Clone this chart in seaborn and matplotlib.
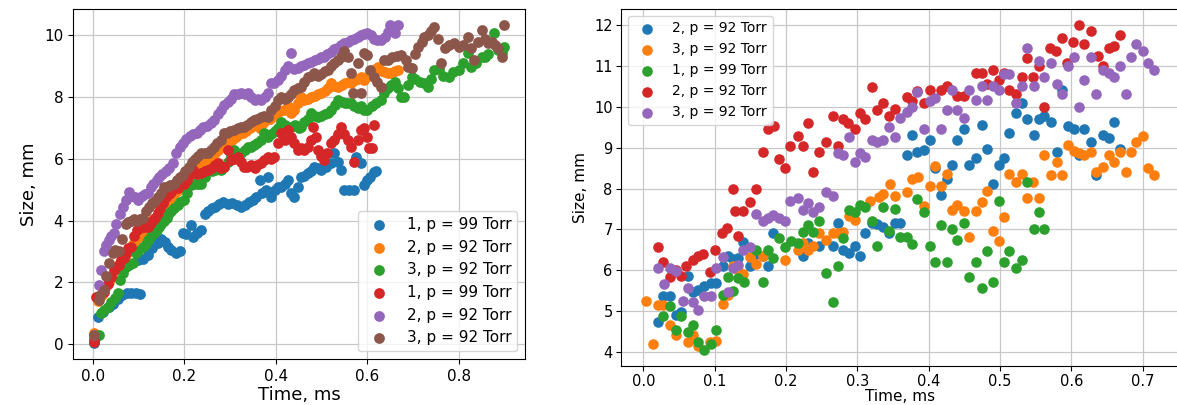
import matplotlib as mpl
mpl.use("Agg")
import matplotlib.pyplot as plt
from matplotlib.ticker import MultipleLocator
import seaborn as sns

# ---------- left panel data (time ms, size mm) ----------
blue_l_t = [0.002, 0.011, 0.022, 0.035, 0.045, 0.055, 0.065, 0.075, 0.085, 0.095,
            0.104, 0.100, 0.110, 0.120, 0.130, 0.142, 0.150, 0.158, 0.165, 0.172,
            0.182, 0.190, 0.197, 0.205, 0.215, 0.220, 0.228, 0.237, 0.245, 0.252,
            0.260, 0.268, 0.276, 0.285, 0.295, 0.305, 0.315, 0.324, 0.333, 0.342,
            0.350, 0.358, 0.365, 0.370, 0.378, 0.383, 0.390, 0.398, 0.405, 0.412,
            0.420, 0.427, 0.434, 0.440, 0.448, 0.456, 0.463, 0.470, 0.477, 0.484,
            0.492, 0.500, 0.510, 0.520, 0.528, 0.536, 0.543, 0.550, 0.560, 0.572,
            0.575, 0.587, 0.594, 0.600, 0.607, 0.615, 0.620]
blue_l_s = [0.03, 0.88, 1.05, 1.20, 1.30, 1.45, 1.60, 1.65, 1.65, 1.65,
            1.62, 2.72, 2.75, 2.90, 3.10, 3.27, 3.40, 3.30, 3.15, 3.05,
            2.95, 3.00, 3.60, 3.55, 3.86, 3.47, 3.60, 3.70, 4.20, 4.30,
            4.40, 4.45, 4.55, 4.60, 4.55, 4.57, 4.50, 4.44, 4.50, 4.60,
            4.67, 4.75, 5.30, 4.90, 5.00, 5.40, 4.77, 5.00, 5.10, 5.10,
            5.20, 5.30, 4.90, 4.77, 5.10, 5.40, 5.45, 5.53, 5.60, 5.73,
            5.70, 5.64, 5.75, 5.86, 6.20, 5.90, 5.64, 5.00, 5.00, 5.00,
            6.06, 5.86, 5.15, 5.30, 5.40, 5.58, 5.60]

orange_l_t = [0.003, 0.012, 0.020, 0.028, 0.035, 0.042, 0.050, 0.058, 0.065, 0.072,
              0.080, 0.088, 0.095, 0.103, 0.110, 0.118, 0.125, 0.133, 0.140, 0.148,
              0.155, 0.163, 0.170, 0.178, 0.185, 0.193, 0.200, 0.208, 0.215, 0.223,
              0.230, 0.238, 0.245, 0.253, 0.260, 0.268, 0.275, 0.283, 0.290, 0.298,
              0.305, 0.313, 0.320, 0.328, 0.335, 0.343, 0.350, 0.358, 0.365, 0.373,
              0.380, 0.388, 0.395, 0.403, 0.410, 0.418, 0.427, 0.434, 0.440, 0.448,
              0.456, 0.463, 0.470, 0.477, 0.485, 0.493, 0.500, 0.508, 0.515, 0.520,
              0.528, 0.537, 0.545, 0.552, 0.560, 0.565, 0.573, 0.580, 0.587, 0.594,
              0.602, 0.610, 0.617, 0.624, 0.632, 0.639, 0.646, 0.653, 0.660, 0.668]
orange_l_s = [0.35, 1.40, 1.60, 1.80, 2.00, 2.20, 2.40, 2.60, 2.75, 2.90,
              3.05, 3.25, 3.40, 3.50, 3.60, 3.75, 3.90, 4.05, 4.15, 4.30,
              4.45, 4.60, 4.70, 4.85, 4.95, 5.10, 5.25, 5.40, 5.50, 5.60,
              5.75, 5.85, 5.95, 6.00, 6.10, 6.20, 6.30, 6.40, 6.45, 6.55,
              6.60, 6.70, 6.80, 6.85, 6.90, 7.00, 7.05, 7.10, 7.00, 7.15,
              7.25, 7.30, 7.40, 7.50, 7.55, 7.60, 7.70, 7.48, 7.58, 7.80,
              8.00, 7.90, 7.95, 8.00, 8.05, 8.10, 8.14, 8.20, 8.30, 8.46,
              8.35, 8.33, 8.40, 8.45, 8.50, 8.46, 8.55, 8.60, 8.65, 8.55,
              8.70, 8.80, 8.90, 8.98, 8.85, 8.80, 8.78, 8.78, 8.85, 8.88]

green_l_t = [0.005, 0.013, 0.018, 0.025, 0.033, 0.040, 0.048, 0.055, 0.060, 0.066,
             0.072, 0.080, 0.088, 0.094, 0.100, 0.110, 0.116, 0.120, 0.128, 0.134,
             0.140, 0.145, 0.150, 0.156, 0.162, 0.166, 0.172, 0.178, 0.186, 0.192,
             0.200, 0.207, 0.215, 0.222, 0.230, 0.237, 0.245, 0.252, 0.260, 0.268,
             0.280, 0.288, 0.296, 0.303, 0.310, 0.318, 0.325, 0.333, 0.340, 0.346,
             0.353, 0.360, 0.368, 0.375, 0.383, 0.390, 0.398, 0.405, 0.412, 0.420,
             0.427, 0.434, 0.442, 0.450, 0.456, 0.463, 0.470, 0.477, 0.485, 0.493,
             0.500, 0.507, 0.515, 0.522, 0.530, 0.537, 0.545, 0.552, 0.558, 0.565,
             0.572, 0.580, 0.587, 0.594, 0.600, 0.610, 0.620, 0.630, 0.637, 0.645,
             0.652, 0.660, 0.668, 0.675, 0.680, 0.690, 0.697, 0.705, 0.715, 0.725,
             0.733, 0.740, 0.747, 0.756, 0.765, 0.778, 0.788, 0.800, 0.810, 0.820,
             0.828, 0.838, 0.850, 0.857, 0.865, 0.878, 0.887, 0.894, 0.900]
green_l_s = [0.20, 0.29, 1.00, 1.10, 1.20, 1.35, 1.50, 1.65, 2.07, 2.30,
             2.50, 2.55, 2.62, 2.95, 3.00, 3.15, 3.25, 3.37, 3.50, 3.60,
             3.70, 3.80, 3.90, 4.00, 4.10, 4.24, 4.30, 4.40, 4.50, 4.60,
             4.67, 4.90, 5.15, 5.20, 5.20, 5.20, 5.40, 5.64, 5.60, 5.65,
             5.64, 5.73, 5.90, 6.10, 6.30, 6.06, 6.20, 6.30, 6.40, 6.40,
             6.45, 6.50, 6.60, 6.84, 6.70, 6.80, 6.90, 7.00, 7.20, 7.10,
             7.00, 7.03, 7.10, 7.00, 7.03, 7.20, 7.30, 7.48, 7.40, 7.35,
             7.40, 7.45, 7.48, 7.60, 7.75, 7.90, 7.85, 7.80, 7.80, 7.80,
             7.70, 7.65, 7.70, 7.58, 7.60, 7.70, 7.80, 7.90, 8.14, 8.30,
             8.40, 8.50, 8.30, 8.00, 8.00, 8.40, 8.65, 8.60, 8.50, 8.46,
             8.33, 8.60, 8.88, 8.90, 8.70, 8.65, 8.80, 8.88, 9.10, 9.43,
             8.98, 9.10, 9.30, 9.30, 9.40, 10.08, 9.53, 9.43, 9.63]

red_l_t = [0.002, 0.004, 0.008, 0.015, 0.025, 0.033, 0.040, 0.046, 0.052, 0.057,
           0.062, 0.068, 0.072, 0.078, 0.083, 0.090, 0.096, 0.104, 0.112, 0.120,
           0.126, 0.130, 0.136, 0.142, 0.148, 0.153, 0.160, 0.167, 0.172, 0.180,
           0.186, 0.193, 0.200, 0.207, 0.213, 0.220, 0.228, 0.237, 0.245, 0.252,
           0.260, 0.268, 0.274, 0.280, 0.288, 0.296, 0.302, 0.310, 0.318, 0.324,
           0.330, 0.338, 0.346, 0.355, 0.360, 0.368, 0.375, 0.383, 0.390, 0.397,
           0.405, 0.412, 0.420, 0.427, 0.433, 0.440, 0.448, 0.456, 0.463, 0.470,
           0.477, 0.482, 0.488, 0.493, 0.500, 0.506, 0.513, 0.520, 0.528, 0.536,
           0.543, 0.550, 0.558, 0.565, 0.572, 0.580, 0.587, 0.594, 0.600, 0.605,
           0.610, 0.615]
red_l_s = [0.06, 0.15, 1.52, 1.55, 1.70, 1.95, 2.17, 2.40, 2.50, 2.55,
           2.72, 2.80, 2.95, 3.10, 3.15, 3.50, 3.70, 3.75, 3.78, 3.80,
           3.90, 4.00, 4.10, 4.24, 4.40, 4.57, 4.77, 4.85, 4.93, 5.10,
           5.05, 5.20, 5.20, 5.30, 5.50, 5.64, 5.50, 5.53, 5.60, 5.64,
           5.70, 5.80, 5.86, 5.70, 5.75, 6.30, 5.96, 6.00, 6.06, 5.90,
           5.73, 5.75, 5.80, 5.70, 5.80, 5.86, 5.95, 6.06, 6.00, 6.06,
           6.50, 6.84, 6.60, 6.94, 6.70, 6.50, 6.30, 6.35, 6.30, 6.40,
           6.60, 7.03, 6.70, 6.30, 6.10, 5.96, 6.20, 6.50, 6.60, 6.80,
           7.03, 6.80, 6.60, 6.40, 5.90, 6.60, 6.94, 7.00, 6.70, 6.35,
           6.35, 7.10]

purple_l_t = [0.003, 0.013, 0.018, 0.025, 0.030, 0.035, 0.040, 0.046, 0.052, 0.060,
              0.066, 0.072, 0.079, 0.085, 0.092, 0.100, 0.108, 0.114, 0.120, 0.127,
              0.133, 0.140, 0.145, 0.152, 0.160, 0.168, 0.175, 0.182, 0.190, 0.197,
              0.205, 0.212, 0.220, 0.228, 0.235, 0.242, 0.250, 0.258, 0.266, 0.274,
              0.280, 0.287, 0.295, 0.302, 0.310, 0.318, 0.325, 0.333, 0.340, 0.347,
              0.355, 0.362, 0.368, 0.376, 0.383, 0.390, 0.397, 0.405, 0.412, 0.420,
              0.427, 0.434, 0.440, 0.448, 0.456, 0.463, 0.470, 0.477, 0.485, 0.492,
              0.500, 0.506, 0.513, 0.520, 0.528, 0.535, 0.542, 0.550, 0.558, 0.565,
              0.572, 0.580, 0.587, 0.594, 0.600, 0.608, 0.615, 0.622, 0.630, 0.638,
              0.645, 0.650, 0.660, 0.668]
purple_l_s = [0.30, 1.90, 2.40, 3.00, 3.20, 3.37, 3.50, 3.60, 3.90, 4.20,
              4.44, 4.67, 4.93, 4.80, 4.75, 4.67, 4.80, 4.85, 4.90, 5.10,
              5.20, 5.30, 5.40, 5.50, 5.60, 5.70, 5.86, 6.20, 6.40, 6.50,
              6.65, 6.75, 6.80, 6.85, 6.95, 7.03, 7.05, 7.15, 7.25, 7.45,
              7.60, 7.75, 7.85, 7.95, 8.10, 8.10, 8.12, 8.10, 8.14, 8.00,
              7.90, 7.95, 7.90, 8.00, 8.14, 8.46, 8.46, 8.55, 8.70, 8.88,
              9.00, 9.43, 8.90, 8.95, 9.00, 9.05, 9.10, 9.15, 9.20, 9.25,
              9.30, 9.30, 9.40, 9.45, 9.55, 9.60, 9.70, 9.75, 9.80, 9.85,
              9.90, 9.95, 10.00, 10.05, 10.08, 10.00, 9.90, 9.85, 9.85, 9.95,
              10.10, 10.34, 10.08, 10.34]

brown_l_t = [0.004, 0.013, 0.016, 0.024, 0.030, 0.035, 0.044, 0.050, 0.057, 0.064,
             0.072, 0.078, 0.083, 0.090, 0.097, 0.104, 0.110, 0.116, 0.123, 0.130,
             0.137, 0.143, 0.150, 0.156, 0.163, 0.170, 0.177, 0.184, 0.190, 0.197,
             0.203, 0.210, 0.217, 0.224, 0.230, 0.237, 0.245, 0.252, 0.258, 0.265,
             0.272, 0.280, 0.287, 0.294, 0.300, 0.310, 0.318, 0.324, 0.330, 0.338,
             0.346, 0.353, 0.360, 0.368, 0.375, 0.383, 0.390, 0.398, 0.405, 0.412,
             0.420, 0.427, 0.434, 0.440, 0.448, 0.456, 0.463, 0.470, 0.477, 0.484,
             0.492, 0.500, 0.508, 0.515, 0.522, 0.528, 0.536, 0.543, 0.550, 0.558,
             0.565, 0.570, 0.580, 0.587, 0.594, 0.600, 0.607, 0.615, 0.622, 0.630,
             0.637, 0.646, 0.655, 0.665, 0.675, 0.685, 0.690, 0.697, 0.705, 0.712,
             0.720, 0.725, 0.733, 0.740, 0.747, 0.755, 0.762, 0.770, 0.780, 0.790,
             0.800, 0.810, 0.820, 0.828, 0.834, 0.842, 0.850, 0.858, 0.865, 0.872,
             0.880, 0.887, 0.894, 0.900]
brown_l_s = [0.30, 1.42, 1.60, 1.75, 2.20, 2.62, 2.95, 3.05, 3.00, 3.40,
             3.90, 3.95, 4.00, 4.05, 4.00, 4.05, 4.10, 4.30, 4.45, 4.57,
             4.65, 4.75, 4.90, 5.10, 5.10, 5.15, 5.20, 5.30, 5.40, 5.47,
             5.60, 5.73, 5.90, 6.00, 6.10, 6.20, 6.20, 6.20, 6.30, 6.40,
             6.50, 6.60, 6.84, 6.85, 6.90, 6.94, 7.00, 7.03, 7.03, 7.10,
             7.20, 7.26, 7.30, 7.36, 7.40, 7.36, 7.58, 7.70, 7.90, 8.00,
             7.95, 8.00, 8.10, 8.23, 8.30, 8.33, 8.50, 8.65, 8.70, 8.78,
             8.70, 8.75, 8.85, 8.88, 9.00, 9.10, 9.20, 9.30, 9.50, 9.30,
             8.78, 8.14, 9.10, 8.14, 9.43, 9.37, 8.88, 8.65, 8.50, 8.33,
             9.20, 9.20, 9.30, 9.35, 9.37, 9.20, 8.98, 8.95, 9.40, 9.63,
             9.80, 9.95, 10.00, 10.15, 10.28, 9.90, 9.10, 9.60, 9.70, 9.75,
             9.63, 9.70, 9.95, 9.60, 9.20, 9.80, 10.18, 9.90, 9.75, 9.80,
             9.70, 9.60, 9.30, 10.34]

left_labels = ["1, p = 99 Torr", "2, p = 92 Torr", "3, p = 92 Torr",
               "1, p = 99 Torr", "2, p = 92 Torr", "3, p = 92 Torr"]

# ---------- right panel data ----------
blue_r_t = [0.020, 0.028, 0.037, 0.045, 0.053, 0.062, 0.070, 0.077, 0.085, 0.094,
            0.102, 0.111, 0.118, 0.126, 0.133, 0.140, 0.150, 0.158, 0.167, 0.175,
            0.182, 0.223, 0.231, 0.246, 0.265, 0.272, 0.280, 0.288, 0.296, 0.304,
            0.311, 0.321, 0.328, 0.336, 0.344, 0.352, 0.360, 0.370, 0.377, 0.384,
            0.393, 0.401, 0.408, 0.417, 0.425, 0.433, 0.440, 0.450, 0.457, 0.466,
            0.474, 0.482, 0.490, 0.498, 0.505, 0.513, 0.522, 0.530, 0.538, 0.547,
            0.554, 0.562, 0.571, 0.579, 0.587, 0.595, 0.603, 0.610, 0.618, 0.627,
            0.635, 0.644, 0.652, 0.659, 0.668]
blue_r_s = [4.73, 5.37, 5.37, 4.90, 4.98, 5.86, 5.47, 5.52, 5.60, 5.69,
            5.69, 6.10, 6.35, 6.27, 6.30, 6.68, 6.10, 6.39, 6.35, 6.10,
            6.90, 6.35, 6.66, 6.59, 6.59, 7.15, 6.49, 6.42, 6.59, 6.35,
            6.90, 7.15, 7.13, 7.06, 6.90, 7.15, 7.15, 8.82, 9.31, 8.89,
            8.94, 9.20, 8.50, 7.84, 8.23, 8.57, 9.20, 9.45, 8.57, 8.74,
            9.55, 8.96, 8.10, 8.57, 8.74, 9.37, 9.84, 10.09, 9.70, 9.31,
            9.70, 9.77, 9.62, 8.89, 10.41, 9.53, 9.45, 8.82, 9.45, 9.13,
            8.33, 9.31, 9.23, 9.62, 8.96]

orange_r_t = [0.004, 0.013, 0.020, 0.028, 0.037, 0.045, 0.062, 0.070, 0.077, 0.093,
              0.102, 0.111, 0.118, 0.126, 0.133, 0.140, 0.150, 0.158, 0.167, 0.199,
              0.216, 0.223, 0.231, 0.238, 0.246, 0.256, 0.265, 0.272, 0.280, 0.288,
              0.296, 0.318, 0.330, 0.336, 0.345, 0.353, 0.369, 0.377, 0.385, 0.393,
              0.401, 0.408, 0.417, 0.425, 0.433, 0.440, 0.449, 0.457, 0.466, 0.474,
              0.482, 0.490, 0.498, 0.506, 0.513, 0.522, 0.530, 0.538, 0.546, 0.555,
              0.562, 0.571, 0.579, 0.587, 0.595, 0.603, 0.611, 0.618, 0.627, 0.635,
              0.644, 0.652, 0.659, 0.668, 0.676, 0.684, 0.691, 0.700, 0.707, 0.715]
orange_r_s = [5.25, 4.20, 5.15, 5.15, 4.66, 4.42, 4.25, 4.42, 4.15, 4.25,
              4.27, 5.17, 5.39, 6.10, 6.00, 5.90, 6.32, 6.15, 6.35, 6.25,
              6.49, 6.66, 6.49, 6.59, 6.90, 6.74, 6.90, 6.90, 6.93, 7.33,
              7.23, 7.69, 7.79, 7.86, 8.10, 7.82, 7.91, 8.23, 8.28, 7.57,
              8.06, 8.55, 8.06, 8.35, 7.47, 7.60, 7.45, 6.81, 7.45, 7.67,
              7.94, 6.96, 6.71, 7.30, 8.35, 8.15, 8.35, 7.77, 8.15, 7.77,
              8.82, 8.33, 8.65, 8.33, 9.06, 8.92, 8.87, 8.82, 8.89, 8.40,
              8.52, 8.82, 8.65, 8.89, 8.40, 8.89, 9.13, 9.28, 8.50, 8.33]

green_r_t = [0.028, 0.037, 0.045, 0.053, 0.062, 0.070, 0.077, 0.085, 0.094, 0.102,
             0.111, 0.118, 0.126, 0.133, 0.141, 0.158, 0.167, 0.175, 0.182, 0.190,
             0.199, 0.207, 0.216, 0.223, 0.231, 0.238, 0.246, 0.256, 0.265, 0.272,
             0.280, 0.288, 0.296, 0.304, 0.311, 0.321, 0.328, 0.336, 0.344, 0.352,
             0.360, 0.369, 0.377, 0.384, 0.393, 0.401, 0.408, 0.417, 0.425, 0.433,
             0.440, 0.450, 0.457, 0.466, 0.474, 0.482, 0.490, 0.498, 0.506, 0.513,
             0.522, 0.530, 0.538, 0.547, 0.555, 0.562]
green_r_s = [4.88, 5.12, 4.54, 4.88, 4.49, 4.66, 4.25, 4.05, 4.20, 4.54,
             5.39, 5.83, 5.50, 5.80, 5.71, 6.49, 5.71, 6.49, 6.29, 6.79,
             6.57, 6.71, 6.66, 6.93, 7.10, 6.93, 7.20, 5.93, 5.22, 6.10,
             6.79, 7.47, 7.42, 7.60, 7.55, 7.20, 6.59, 7.55, 6.96, 7.50,
             6.81, 6.81, 6.64, 7.74, 7.42, 6.59, 6.20, 7.10, 6.20, 7.00,
             6.74, 7.15, 5.83, 6.20, 5.56, 6.47, 5.71, 7.69, 6.20, 6.47,
             6.05, 6.25, 8.15, 7.00, 7.42, 7.00]

red_r_t = [0.020, 0.028, 0.037, 0.046, 0.052, 0.060, 0.070, 0.077, 0.084, 0.093,
           0.100, 0.110, 0.117, 0.126, 0.128, 0.133, 0.140, 0.150, 0.158, 0.167,
           0.175, 0.183, 0.190, 0.199, 0.206, 0.216, 0.223, 0.231, 0.238, 0.246,
           0.256, 0.265, 0.272, 0.279, 0.286, 0.296, 0.304, 0.311, 0.320, 0.328,
           0.336, 0.344, 0.353, 0.370, 0.377, 0.384, 0.393, 0.401, 0.417, 0.425,
           0.440, 0.449, 0.466, 0.474, 0.482, 0.490, 0.498, 0.506, 0.513, 0.522,
           0.530, 0.538, 0.546, 0.554, 0.562, 0.570, 0.578, 0.587, 0.594, 0.602,
           0.610, 0.618, 0.627, 0.637, 0.644, 0.652, 0.659, 0.668]
red_r_s = [6.57, 6.20, 5.83, 6.00, 5.86, 6.10, 6.25, 6.35, 6.40, 5.96,
           6.50, 6.90, 7.03, 8.00, 7.45, 6.83, 7.45, 7.67, 8.00, 8.89,
           9.45, 9.53, 8.72, 8.50, 9.04, 9.28, 9.04, 9.60, 8.40, 8.89,
           9.14, 9.77, 9.04, 9.70, 9.60, 9.45, 9.84, 9.70, 10.48, 9.92,
           10.09, 9.77, 9.94, 10.23, 10.14, 10.40, 10.09, 10.41, 10.41, 10.50,
           10.26, 10.26, 10.82, 10.82, 10.57, 10.90, 10.65, 10.82, 10.41, 10.32,
           10.72, 11.20, 10.72, 11.00, 10.00, 11.43, 11.36, 11.68, 11.07, 11.60,
           12.00, 11.53, 11.85, 11.24, 11.00, 11.43, 11.50, 11.75]

purple_r_t = [0.020, 0.029, 0.037, 0.045, 0.055, 0.062, 0.070, 0.077, 0.085, 0.094,
              0.102, 0.111, 0.118, 0.126, 0.133, 0.140, 0.150, 0.158, 0.167, 0.174,
              0.182, 0.190, 0.199, 0.206, 0.216, 0.223, 0.231, 0.238, 0.246, 0.256,
              0.265, 0.272, 0.280, 0.288, 0.296, 0.304, 0.311, 0.320, 0.328, 0.336,
              0.344, 0.352, 0.360, 0.369, 0.377, 0.384, 0.393, 0.401, 0.408, 0.417,
              0.425, 0.433, 0.440, 0.450, 0.457, 0.466, 0.474, 0.482, 0.490, 0.498,
              0.505, 0.513, 0.522, 0.530, 0.538, 0.547, 0.554, 0.562, 0.571, 0.579,
              0.587, 0.595, 0.603, 0.610, 0.618, 0.627, 0.635, 0.644, 0.652, 0.659,
              0.668, 0.676, 0.684, 0.691, 0.700, 0.707, 0.715]
purple_r_s = [6.05, 5.66, 6.05, 5.98, 5.25, 5.56, 5.22, 5.03, 5.37, 5.37,
              6.05, 6.32, 5.47, 6.05, 6.13, 6.49, 6.57, 7.37, 7.20, 7.28,
              7.35, 7.28, 7.20, 7.70, 7.77, 7.47, 7.64, 7.42, 7.55, 7.91,
              7.82, 8.87, 8.82, 9.25, 8.65, 8.87, 8.77, 9.19, 9.13, 9.19,
              9.50, 9.25, 9.72, 9.87, 9.99, 10.36, 9.47, 10.14, 10.21, 9.47,
              9.92, 10.41, 9.92, 9.72, 10.41, 10.16, 10.50, 10.16, 10.50, 10.41,
              10.80, 10.80, 10.09, 10.50, 11.45, 10.50, 11.12, 10.72, 11.07, 10.57,
              10.31, 11.00, 11.21, 10.00, 10.65, 11.21, 10.31, 10.90, 10.84, 10.72,
              11.00, 10.31, 11.21, 11.53, 11.36, 11.07, 10.90]

right_labels = ["2, p = 92 Torr", "3, p = 92 Torr", "1, p = 99 Torr",
                "2, p = 92 Torr", "3, p = 92 Torr"]

palette = sns.color_palette("tab10")

left_series = [(blue_l_t, blue_l_s), (orange_l_t, orange_l_s), (green_l_t, green_l_s),
               (red_l_t, red_l_s), (purple_l_t, purple_l_s), (brown_l_t, brown_l_s)]
right_series = [(blue_r_t, blue_r_s), (orange_r_t, orange_r_s), (green_r_t, green_r_s),
                (red_r_t, red_r_s), (purple_r_t, purple_r_s)]

fig = plt.figure(figsize=(11.77, 4.05), dpi=100)
ax1 = fig.add_axes([0.062, 0.1136, 0.384, 0.864])
ax2 = fig.add_axes([0.5276, 0.0963, 0.474, 0.8815])

for i, (t, s) in enumerate(left_series):
    sns.scatterplot(x=t, y=s, color=palette[i], label=left_labels[i],
                    s=60, linewidth=0, ax=ax1)
for i, (t, s) in enumerate(right_series):
    sns.scatterplot(x=t, y=s, color=palette[i], label=right_labels[i],
                    s=58, linewidth=0, ax=ax2)

# left panel styling
ax1.set_axisbelow(True)
ax1.grid(True, color="#c8c8c8", linewidth=0.9)
ax1.xaxis.set_major_locator(MultipleLocator(0.2))
ax1.yaxis.set_major_locator(MultipleLocator(2))
ax1.set_xlabel("Time, ms", fontsize=13, labelpad=2)
ax1.set_ylabel("Size, mm", fontsize=13)
ax1.tick_params(labelsize=11)
ax1.legend(loc="lower right", fontsize=11)

# right panel styling
ax2.set_axisbelow(True)
ax2.grid(True, color="#c8c8c8", linewidth=0.9)
ax2.xaxis.set_major_locator(MultipleLocator(0.1))
ax2.yaxis.set_major_locator(MultipleLocator(1))
ax2.set_xlabel("Time, ms", fontsize=11, labelpad=0)
ax2.set_ylabel("Size, mm", fontsize=11)
ax2.tick_params(labelsize=10.5, pad=2.5)
ax2.legend(loc="upper left", fontsize=10)

fig.savefig("out.png", dpi=100)
plt.close(fig)
